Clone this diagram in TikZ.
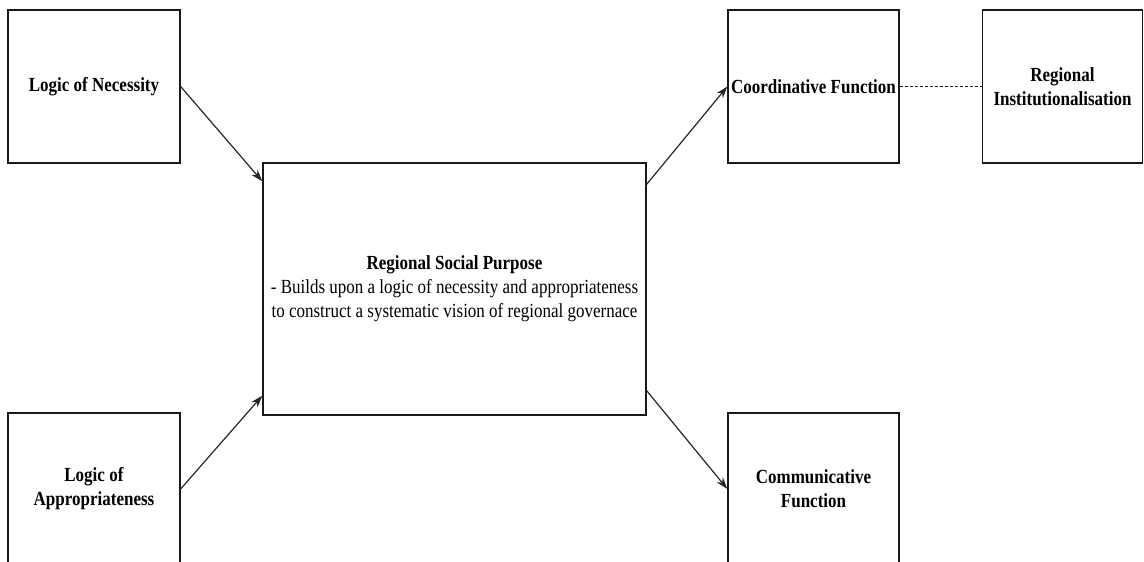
\documentclass[tikz,border=0pt]{standalone}
\usepackage{fontspec}
\setmainfont{Liberation Serif}[FakeStretch=0.85]
\usetikzlibrary{arrows.meta,calc}
\begin{document}
\begin{tikzpicture}[x=1pt,y=-1pt,
  box/.style={draw=black!90, line width=1.3pt, rectangle, inner sep=0pt, align=center,
    font=\fontsize{20}{24}\selectfont},
  arr/.style={draw=black!85, line width=1.2pt, -{Stealth[length=12pt,width=8pt]}},
  dotline/.style={draw=black!90, line width=1.2pt, dash pattern=on 3pt off 2pt}]
\useasboundingbox (0,0) rectangle (1144,562);
\clip (0,0) rectangle (1144,562);
\node[box, minimum width=172, minimum height=153] (nec) at (94,86.5) {\textbf{Logic of Necessity}};
\node[box, minimum width=172, minimum height=152] (app) at (94,489) {\textbf{Logic of}\\\textbf{Appropriateness}};
\node[box, minimum width=383, minimum height=252] (c) at (454.5,289)
  {\textbf{Regional Social Purpose}\\- Builds upon a logic of necessity and appropriateness\\to construct a systematic vision of regional governace};
\node[box, minimum width=171, minimum height=153] (coord) at (813.5,86.5) {\textbf{Coordinative Function}};
\node[box, minimum width=160, minimum height=153] (inst) at (1062.5,86.5) {\textbf{Regional}\\\textbf{Institutionalisation}};
\node[box, minimum width=171, minimum height=152] (comm) at (813.5,489) {\textbf{Communicative}\\\textbf{Function}};
\coordinate (cin1) at ($(c.north west)+(0,19)$);
\coordinate (cin2) at ($(c.south west)+(0,-20)$);
\coordinate (cout1) at ($(c.north east)+(0,22)$);
\coordinate (cout2) at ($(c.south east)+(0,-25)$);
\draw[arr] (nec.east) -- (cin1);
\draw[arr] (app.east) -- (cin2);
\draw[arr] (cout1) -- (coord.west);
\draw[arr] (cout2) -- (comm.west);
\draw[dotline] (coord.east) -- (inst.west);
\end{tikzpicture}
\end{document}
